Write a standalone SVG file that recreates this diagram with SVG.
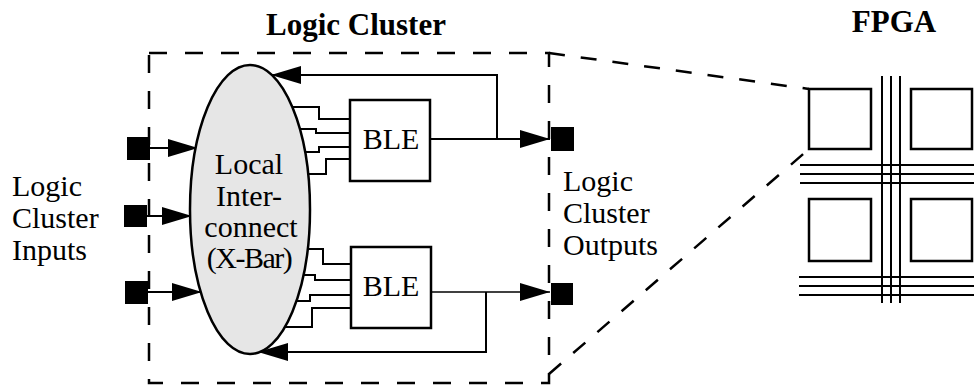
<svg xmlns="http://www.w3.org/2000/svg" width="974" height="387" viewBox="0 0 974 387">
<style>
.t{font-family:"Liberation Serif","Times New Roman",serif;font-size:30px;fill:#000}
.tb{font-family:"Liberation Serif","Times New Roman",serif;font-size:31px;font-weight:bold;fill:#000}
.w{fill:none;stroke:#000;stroke-width:2}
.dash{fill:none;stroke:#000;stroke-width:2.5;stroke-dasharray:18 18}
.dd{fill:none;stroke:#000;stroke-width:2.5;stroke-dasharray:16 16}
.box{fill:#fff;stroke:#000;stroke-width:2.5}
.pad{fill:#000}
.fl{stroke:#000;stroke-width:2}
</style>
<defs>
<marker id="ah" markerWidth="30" markerHeight="18" refX="30" refY="9" orient="auto" markerUnits="userSpaceOnUse">
<path d="M0,0 L30,9 L0,18 Z" fill="#000"/>
</marker>
</defs>

<text class="tb" x="356" y="35" text-anchor="middle">Logic Cluster</text>
<text class="tb" x="894" y="32" text-anchor="middle">FPGA</text>

<g id="cluster-boundary">
<path class="dash" d="M149,53 H549 V383 H149 Z"/>
</g>

<g id="connectors">
<!-- inputs -->
<line class="w" x1="150" y1="148" x2="198" y2="148" marker-end="url(#ah)"/>
<line class="w" x1="147" y1="216" x2="192" y2="216" marker-end="url(#ah)"/>
<line class="w" x1="148" y1="292" x2="202" y2="292" marker-end="url(#ah)"/>
<!-- top BLE wires -->
<path class="w" d="M250,107 H319 V119 H350"/>
<path class="w" d="M250,129 H316 V133 H350"/>
<path class="w" d="M250,152 H319 V147 H350"/>
<path class="w" d="M250,174 H326 V159 H350"/>
<!-- bottom BLE wires -->
<path class="w" d="M250,249 H323 V264 H351"/>
<path class="w" d="M250,275 H315 V280 H351"/>
<path class="w" d="M250,301 H310 V295 H351"/>
<path class="w" d="M250,327 H312 V308 H351"/>
<!-- outputs -->
<line class="w" x1="430" y1="139" x2="550" y2="139" marker-end="url(#ah)"/>
<line x1="431" y1="292" x2="550" y2="292" stroke="#000" stroke-width="1.4" marker-end="url(#ah)"/>
<!-- feedback -->
<path class="w" d="M497,139 V75 H271" marker-end="url(#ah)"/>
<path class="w" d="M486,292 V352 H258" marker-end="url(#ah)"/>
<!-- zoom lines to FPGA -->
<line class="dd" x1="549" y1="53" x2="809" y2="89"/>
<line class="dd" x1="549" y1="374" x2="809" y2="149"/>
</g>

<g id="local-interconnect">
<ellipse cx="250" cy="209.5" rx="60" ry="144.5" fill="#e6e6e6" stroke="#000" stroke-width="2.5"/>
<text class="t" x="249" y="174" text-anchor="middle">Local</text>
<text class="t" x="249" y="206" text-anchor="middle">Inter-</text>
<text class="t" x="251" y="237" text-anchor="middle">connect</text>
<text class="t" x="249" y="268" text-anchor="middle" letter-spacing="-1.5">(X-Bar)</text>
</g>

<g id="ble-top">
<rect class="box" x="350" y="100" width="80" height="81"/>
<text class="t" x="391" y="149" text-anchor="middle">BLE</text>
</g>

<g id="ble-bottom">
<rect class="box" x="351" y="247" width="80" height="81"/>
<text class="t" x="391" y="296" text-anchor="middle">BLE</text>
</g>

<g id="input-pads">
<rect class="pad" x="127" y="137" width="23" height="23"/>
<rect class="pad" x="124" y="205" width="23" height="22"/>
<rect class="pad" x="125" y="281" width="23" height="23"/>
</g>

<g id="output-pads">
<rect class="pad" x="551" y="127" width="23" height="24"/>
<rect class="pad" x="551" y="283" width="22" height="22"/>
</g>

<g id="inputs-label">
<text class="t" x="12" y="196">Logic</text>
<text class="t" x="12" y="228">Cluster</text>
<text class="t" x="12" y="260">Inputs</text>
</g>

<g id="outputs-label">
<text class="t" x="563" y="191">Logic</text>
<text class="t" x="563" y="223">Cluster</text>
<text class="t" x="563" y="255">Outputs</text>
</g>

<g id="fpga">
<rect class="box" x="809" y="89" width="62" height="60"/>
<rect class="box" x="911" y="89" width="61" height="60"/>
<rect class="box" x="809" y="199" width="62" height="62"/>
<rect class="box" x="911" y="199" width="61" height="62"/>
<line class="fl" x1="882" y1="76" x2="882" y2="303"/>
<line class="fl" x1="891" y1="76" x2="891" y2="303"/>
<line class="fl" x1="900" y1="76" x2="900" y2="303"/>
<line class="fl" x1="800" y1="165" x2="974" y2="165"/>
<line class="fl" x1="800" y1="174" x2="974" y2="174"/>
<line class="fl" x1="800" y1="183" x2="974" y2="183"/>
<line class="fl" x1="799" y1="277" x2="974" y2="277"/>
<line class="fl" x1="799" y1="286" x2="974" y2="286"/>
<line class="fl" x1="799" y1="295" x2="974" y2="295"/>
</g>
</svg>
